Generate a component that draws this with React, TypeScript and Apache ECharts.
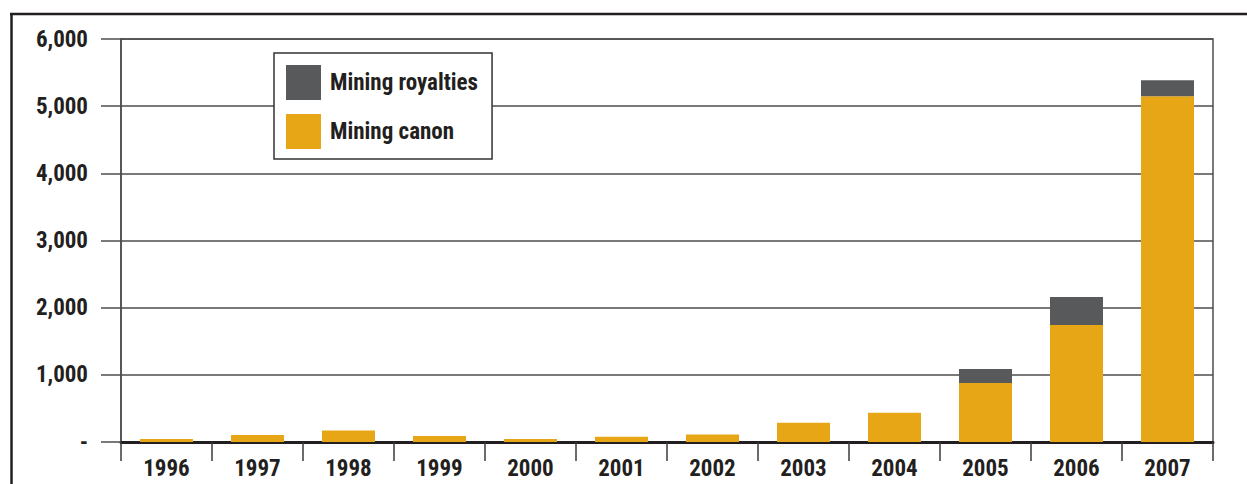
import React, { useEffect, useRef } from "react";
import * as echarts from "echarts";

// Mining transfers by year
const years = ["1996", "1997", "1998", "1999", "2000", "2001", "2002", "2003", "2004", "2005", "2006", "2007"];
const miningCanon = [45, 105, 170, 90, 45, 80, 110, 285, 435, 878, 1741, 5149];
const miningRoyalties = [null, null, null, null, null, null, null, null, null, 208, 417, 238];
const yTicks = [0, 1000, 2000, 3000, 4000, 5000, 6000];

const FONT = "'Roboto Condensed', 'Open Sans Condensed', sans-serif";
const INK = "#231f20";
const GRID = "#4d4d4d";
const CANON = "#e6a615";
const ROYAL = "#58595b";

const formatTick = (v: number) => (v === 0 ? "-" : v.toLocaleString("en-US"));

export default function App() {
  const ref = useRef<HTMLDivElement>(null);

  useEffect(() => {
    document.body.style.margin = "0";
    const chart = echarts.init(ref.current!, undefined, { renderer: "svg" });
    chart.setOption({
      animation: false,
      backgroundColor: "#ffffff",
      textStyle: { fontFamily: FONT, fontWeight: "bold", color: INK },
      grid: {
        left: 121,
        right: 34,
        top: 39,
        bottom: 42,
        show: true,
        borderColor: GRID,
        borderWidth: 1.5,
      },
      legend: {
        orient: "vertical",
        left: 274,
        top: 53,
        data: ["Mining royalties", "Mining canon"],
        icon: "rect",
        itemWidth: 35,
        itemHeight: 35,
        itemGap: 14,
        padding: [12, 14, 10, 12],
        backgroundColor: "#ffffff",
        borderColor: "#333333",
        borderWidth: 1.5,
        selectedMode: false,
        textStyle: { fontFamily: FONT, fontWeight: "bold", fontSize: 23, color: INK, padding: [0, 0, 0, 4] },
      },
      xAxis: {
        type: "category",
        data: years,
        axisLine: { show: true, lineStyle: { color: INK, width: 3 } },
        axisTick: { show: true, length: 19, lineStyle: { color: "#3a3a3a", width: 1.5 } },
        axisLabel: { fontFamily: FONT, fontWeight: "bold", fontSize: 23, color: INK, margin: 15 },
        splitLine: { show: false },
      },
      yAxis: {
        type: "value",
        min: yTicks[0],
        max: yTicks[yTicks.length - 1],
        interval: 1000,
        axisLine: { show: true, lineStyle: { color: GRID, width: 1.5 } },
        axisTick: { show: true, length: 20, lineStyle: { color: GRID, width: 1.5 } },
        axisLabel: {
          fontFamily: FONT,
          fontWeight: "bold",
          fontSize: 23,
          color: INK,
          margin: 33,
          formatter: formatTick,
        },
        splitLine: { show: true, lineStyle: { color: GRID, width: 1.5 } },
      },
      series: [
        {
          name: "Mining canon",
          type: "bar",
          stack: "total",
          data: miningCanon,
          barWidth: 53,
          itemStyle: { color: CANON },
        },
        {
          name: "Mining royalties",
          type: "bar",
          stack: "total",
          data: miningRoyalties,
          barWidth: 53,
          itemStyle: { color: ROYAL },
        },
      ],
      graphic: [
        {
          type: "line",
          shape: { x1: 10, y1: 14, x2: 1247, y2: 14 },
          style: { stroke: INK, lineWidth: 2.5 },
          silent: true,
        },
        {
          type: "line",
          shape: { x1: 11.5, y1: 13, x2: 11.5, y2: 484 },
          style: { stroke: INK, lineWidth: 2.5 },
          silent: true,
        },
      ],
    });
    return () => chart.dispose();
  }, []);

  return <div ref={ref} style={{ width: 1247, height: 484 }} />;
}
